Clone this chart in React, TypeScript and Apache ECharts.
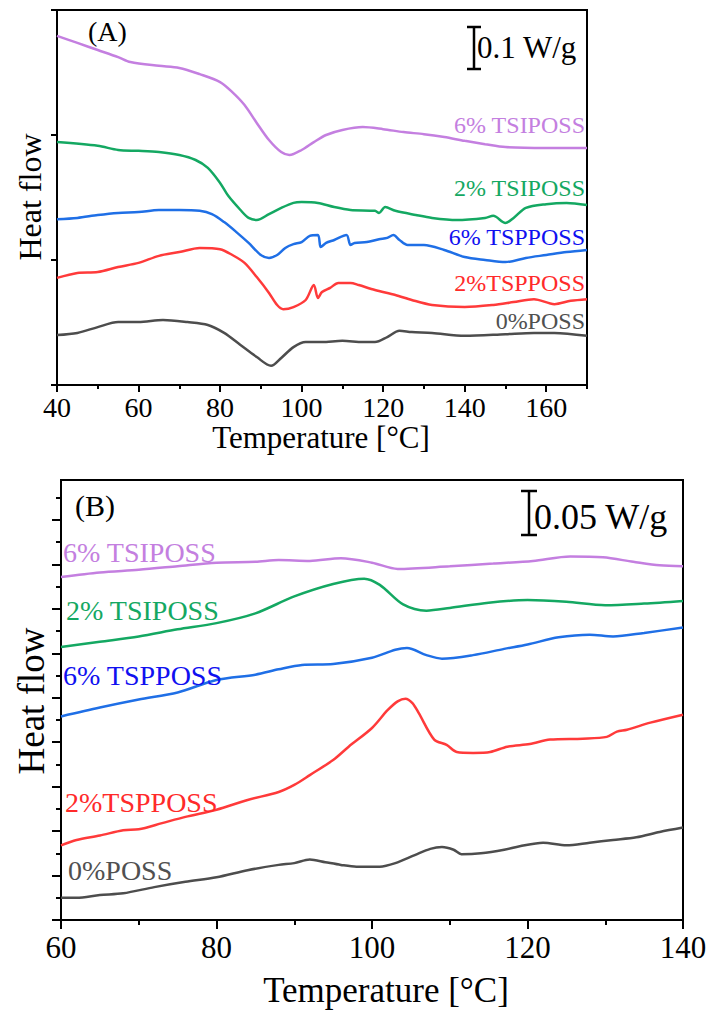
import React, { useEffect, useRef } from "react";
import * as echarts from "echarts";

// ---------- Panel A data (Temperature °C, heat flow W/g with offsets) ----------
const aTicksX = [40, 60, 80, 100, 120, 140, 160];
const aMinorX = [50, 70, 90, 110, 130, 150, 170];
const aTicksY = [0, 0.3, 0.6, 0.9];

const aTSI6 = [[40,0.838],[45,0.821],[50,0.804],[55,0.787],[58,0.775],[65,0.766],[70,0.761],[75,0.746],[80,0.727],[83,0.703],[86,0.672],[89,0.629],[92,0.588],[95,0.559],[97,0.552],[100,0.564],[103,0.583],[106,0.600],[110,0.612],[115,0.619],[120,0.614],[125,0.607],[130,0.602],[135,0.595],[140,0.586],[145,0.578],[150,0.571],[160,0.569],[170,0.569]];
const aTSI2 = [[40,0.583],[50,0.574],[55,0.564],[60,0.562],[65,0.559],[70,0.552],[74,0.540],[77,0.521],[80,0.485],[82,0.454],[85,0.420],[87,0.401],[89,0.396],[92,0.410],[95,0.425],[98,0.437],[100,0.439],[104,0.437],[108,0.427],[112,0.420],[118,0.418],[119,0.413],[120.5,0.427],[123,0.418],[128,0.408],[132,0.401],[138,0.396],[145,0.401],[147,0.406],[150,0.389],[152,0.401],[155,0.425],[160,0.434],[165,0.437],[170,0.432]];
const aTSP6 = [[40,0.398],[45,0.401],[50,0.408],[55,0.413],[60,0.415],[65,0.420],[70,0.420],[75,0.418],[78,0.410],[81,0.391],[84,0.367],[87,0.341],[90,0.312],[92,0.305],[94,0.312],[96,0.329],[98,0.338],[100,0.343],[102,0.358],[104,0.360],[104.7,0.331],[106,0.341],[108,0.348],[111,0.360],[112,0.336],[113,0.341],[116,0.343],[119,0.350],[121,0.353],[122.5,0.360],[124,0.348],[126,0.336],[130,0.336],[135,0.324],[140,0.307],[145,0.300],[150,0.295],[155,0.305],[160,0.312],[165,0.319],[170,0.324]];
const aTSP2 = [[40,0.257],[45,0.269],[50,0.271],[55,0.283],[60,0.293],[65,0.310],[70,0.319],[75,0.329],[80,0.326],[83,0.312],[86,0.293],[89,0.259],[92,0.221],[94,0.192],[95.5,0.182],[98,0.187],[101,0.204],[103,0.240],[104,0.209],[105,0.223],[107,0.233],[109,0.245],[112,0.245],[114,0.240],[118,0.228],[123,0.216],[127,0.204],[132,0.192],[140,0.187],[147,0.192],[152,0.199],[157,0.206],[162,0.194],[166,0.202],[170,0.206]];
const aPOSS0 = [[40,0.120],[45,0.125],[50,0.139],[55,0.151],[60,0.151],[66,0.156],[72,0.151],[77,0.144],[81,0.125],[85,0.096],[89,0.067],[92.5,0.046],[95,0.065],[98,0.091],[101,0.103],[105,0.103],[110,0.106],[115,0.103],[118,0.103],[121,0.115],[124,0.130],[127,0.127],[132,0.125],[140,0.118],[150,0.122],[157,0.125],[162,0.125],[170,0.118]];

// ---------- Panel B data ----------
const bTicksX = [60, 80, 100, 120, 140];
const bMinorX = [70, 90, 110, 130];
const bTicksY = [0, 0.05, 0.1, 0.15, 0.2, 0.25, 0.3, 0.35, 0.4, 0.45];
const bMinorY = [0.025, 0.075, 0.125, 0.175, 0.225, 0.275, 0.325, 0.375, 0.425, 0.475];

const bTSI6 = [[60,0.386],[65,0.391],[70,0.394],[75,0.398],[80,0.402],[85,0.403],[88,0.405],[92,0.404],[96,0.407],[100,0.402],[103.3,0.395],[110,0.398],[115.6,0.401],[120.7,0.404],[125.5,0.409],[129.7,0.408],[133.6,0.403],[137,0.399],[140,0.398]];
const bTSI2 = [[60,0.307],[65,0.313],[70,0.319],[75,0.327],[80,0.334],[85,0.345],[90,0.364],[95,0.378],[99,0.384],[101,0.377],[104,0.355],[107,0.348],[110,0.351],[115,0.357],[120,0.360],[125,0.358],[130,0.354],[135,0.356],[140,0.359]];
const bTSP6 = [[60,0.229],[65,0.239],[70,0.248],[75,0.256],[80,0.270],[85,0.276],[88,0.282],[91,0.287],[95,0.288],[100,0.295],[103,0.304],[104.5,0.306],[107,0.298],[109,0.294],[113,0.298],[117,0.305],[120,0.310],[124,0.318],[128,0.321],[131,0.319],[135,0.323],[140,0.329]];
const bTSP2 = [[60,0.084],[62,0.090],[65,0.095],[68,0.101],[70,0.102],[73,0.109],[76,0.116],[80,0.124],[84,0.135],[88,0.144],[90,0.152],[92,0.163],[95,0.180],[97,0.195],[100,0.216],[102,0.236],[103.3,0.246],[104.3,0.249],[105.2,0.244],[106,0.233],[108,0.203],[109.6,0.197],[110.9,0.189],[113,0.188],[115.2,0.189],[117.4,0.195],[120.3,0.198],[122.9,0.203],[127.1,0.204],[130.2,0.206],[131.5,0.212],[132.8,0.214],[135.8,0.222],[140,0.231]];
const bPOSS0 = [[60,0.025],[62,0.025],[65,0.028],[68,0.030],[72,0.037],[76,0.043],[80,0.048],[84,0.056],[88,0.062],[90,0.064],[92,0.068],[94,0.065],[96,0.062],[98,0.060],[101,0.060],[103,0.064],[105.5,0.073],[107.5,0.080],[109,0.082],[110.5,0.079],[111.5,0.074],[114,0.075],[117,0.079],[119,0.083],[122,0.087],[125,0.084],[128,0.087],[131,0.090],[134,0.093],[137,0.099],[140,0.104]];

const seriesNames = ["6% TSIPOSS", "2% TSIPOSS", "6% TSPPOSS", "2%TSPPOSS", "0%POSS"];
const lineColors = ["#c47fe0", "#14a862", "#1f6fe6", "#ff3a3a", "#4d4d4d"];
const labelColors = ["#c47fe0", "#14a862", "#1010f0", "#ff2a2a", "#505050"];

const FONT = "'Liberation Serif', 'Times New Roman', serif";

export default function App() {
  const ref = useRef<HTMLDivElement>(null);
  useEffect(() => {
    document.body.style.margin = "0";
    if (!ref.current) return;
    const chart = echarts.init(ref.current, undefined, { renderer: "svg" });

    const gA = { left: 57, top: 10, width: 530, height: 375 };
    const gB = { left: 61, top: 480, width: 622, height: 440 };

    const majorX = (min: number, max: number, vals: number[], gridIndex: number, len: number, fs: number, margin: number) => ({
      type: "value", gridIndex, min, max, position: "bottom",
      axisLine: { show: true, lineStyle: { color: "#000", width: 2 } },
      axisTick: { show: true, length: len, inside: false, lineStyle: { color: "#000", width: 2 }, customValues: vals },
      axisLabel: { show: true, customValues: vals, color: "#000", fontFamily: FONT, fontSize: fs, margin },
      splitLine: { show: false },
    });
    const minorX = (min: number, max: number, vals: number[], gridIndex: number, len: number) => ({
      type: "value", gridIndex, min, max, position: "bottom",
      axisLine: { show: false },
      axisTick: { show: true, length: len, lineStyle: { color: "#000", width: 2 }, customValues: vals },
      axisLabel: { show: false },
      splitLine: { show: false },
    });
    const yAx = (min: number, max: number, vals: number[], gridIndex: number, len: number, line: boolean) => ({
      type: "value", gridIndex, min, max, position: "left",
      axisLine: { show: line, lineStyle: { color: "#000", width: 2 } },
      axisTick: { show: true, length: len, lineStyle: { color: "#000", width: 2 }, customValues: vals },
      axisLabel: { show: false },
      splitLine: { show: false },
    });

    const dataA = [aTSI6, aTSI2, aTSP6, aTSP2, aPOSS0];
    const dataB = [bTSI6, bTSI2, bTSP6, bTSP2, bPOSS0];
    const series: any[] = [];
    dataA.forEach((d, i) => series.push({
      type: "line", name: "A " + seriesNames[i], data: d, xAxisIndex: 0, yAxisIndex: 0,
      showSymbol: false, smooth: 0.3, lineStyle: { color: lineColors[i], width: 2.5 }, z: 3,
    }));
    dataB.forEach((d, i) => series.push({
      type: "line", name: "B " + seriesNames[i], data: d, xAxisIndex: 2, yAxisIndex: 2,
      showSymbol: false, smooth: 0.3, lineStyle: { color: lineColors[i], width: 2.5 }, z: 3,
    }));

    const txt = (text: string, x: number, y: number, size: number, color: string, align: string = "left", rotation = 0) => ({
      type: "text", x, y, rotation, z: 10,
      style: { text, fill: color, font: `${size}px ${FONT}`, textAlign: align, textVerticalAlign: "middle" },
    });
    const ln = (x1: number, y1: number, x2: number, y2: number) => ({
      type: "line", z: 10, shape: { x1, y1, x2, y2 }, style: { stroke: "#000", lineWidth: 2.5 },
    });

    const aLabelY = [125, 188, 237, 283, 321];
    const bLabelY = [552, 610, 675, 802, 870];
    const bLabelX = [63, 66, 63, 65, 68];

    const graphic: any[] = [
      txt("(A)", 88, 31, 28, "#000"),
      txt("(B)", 75, 505, 30, "#000"),
      // scale bars
      ln(474, 27, 474, 69), ln(467, 27, 481, 27), ln(467, 69, 481, 69),
      txt("0.1 W/g", 477, 47, 31, "#000"),
      ln(529, 491, 529, 535), ln(521, 491, 537, 491), ln(521, 535, 537, 535),
      txt("0.05 W/g", 534, 517, 36, "#000"),
      // axis titles
      txt("Temperature [°C]", 321, 437, 31, "#000", "center"),
      txt("Temperature [°C]", 386, 990, 35, "#000", "center"),
      txt("Heat flow", 30, 197, 32, "#000", "center", Math.PI / 2),
      txt("Heat flow", 31, 701, 37, "#000", "center", Math.PI / 2),
    ];
    seriesNames.forEach((n, i) => {
      graphic.push(txt(n, 585, aLabelY[i], 24, labelColors[i], "right"));
      graphic.push(txt(n, bLabelX[i], bLabelY[i], 28, labelColors[i], "left"));
    });

    chart.setOption({
      animation: false,
      backgroundColor: "#fff",
      grid: [
        { ...gA, show: true, borderColor: "#000", borderWidth: 2, backgroundColor: "transparent", containLabel: false },
        { ...gB, show: true, borderColor: "#000", borderWidth: 2, backgroundColor: "transparent", containLabel: false },
      ],
      xAxis: [
        majorX(40, 170, aTicksX, 0, 7, 28, 8),
        minorX(40, 170, aMinorX, 0, 4),
        majorX(60, 140, bTicksX, 1, 9, 31, 12),
        minorX(60, 140, bMinorX, 1, 5),
      ],
      yAxis: [
        yAx(0, 0.9, aTicksY, 0, 6, true),
        yAx(0, 0.9, [], 0, 0, false),
        yAx(0, 0.495, bTicksY, 1, 9, true),
        yAx(0, 0.495, bMinorY, 1, 5, false),
      ],
      series,
      graphic,
    });
    return () => chart.dispose();
  }, []);
  return <div ref={ref} style={{ width: 711, height: 1011 }} />;
}
